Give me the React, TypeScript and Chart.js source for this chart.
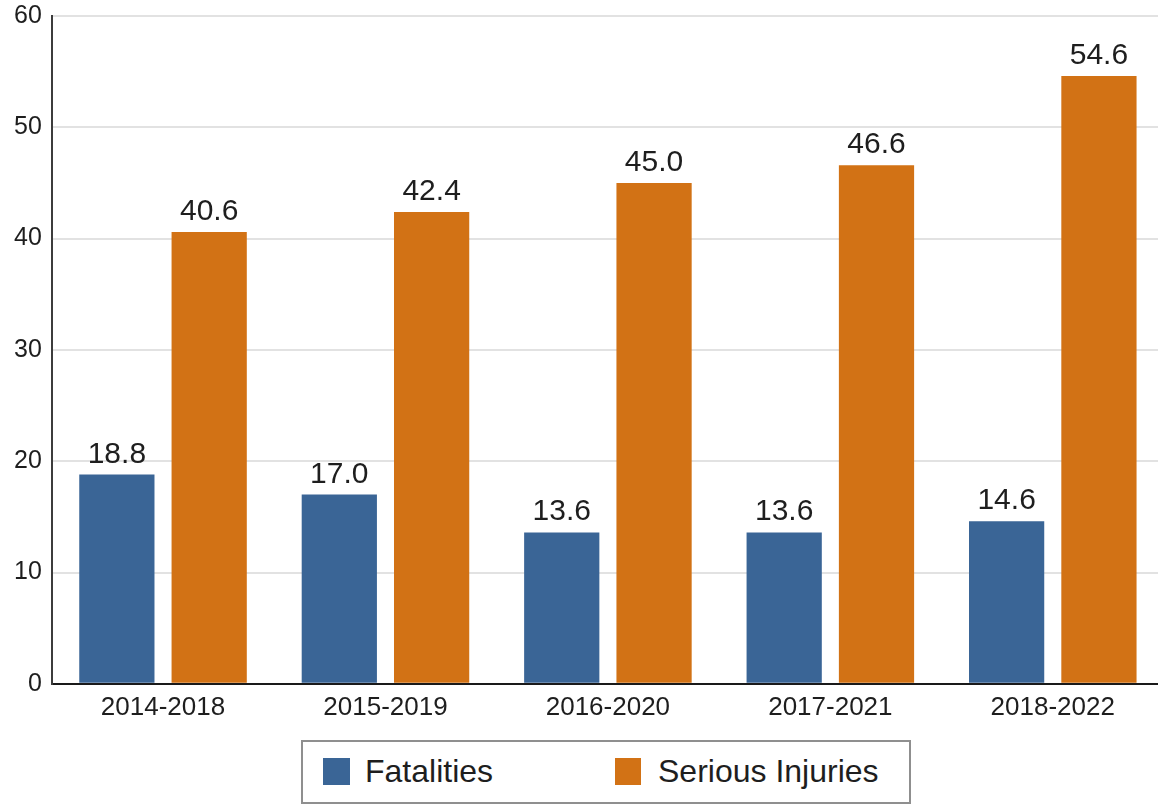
import React, { useEffect, useRef } from 'react';
import { Chart, registerables } from 'chart.js';

Chart.register(...registerables);

const categories = ['2014-2018', '2015-2019', '2016-2020', '2017-2021', '2018-2022'];
const fatalities = [18.8, 17.0, 13.6, 13.6, 14.6];
const seriousInjuries = [40.6, 42.4, 45.0, 46.6, 54.6];
const seriesLabels = ['Fatalities', 'Serious Injuries'];
const seriesColors = ['#3a6596', '#d27215'];
const yMin = 0;
const yMax = 60;
const yStep = 10;

const FONT = "'Liberation Sans', Arial, Helvetica, sans-serif";

const valueLabels = {
  id: 'valueLabels',
  afterDatasetsDraw(chart: any) {
    const ctx = chart.ctx;
    ctx.save();
    ctx.font = `30px ${FONT}`;
    ctx.fillStyle = '#1e1e1e';
    ctx.textAlign = 'center';
    ctx.textBaseline = 'alphabetic';
    chart.data.datasets.forEach((ds: any, i: number) => {
      const meta = chart.getDatasetMeta(i);
      meta.data.forEach((el: any, j: number) => {
        const v = ds.data[j];
        ctx.fillText(Number(v).toFixed(1), el.x, el.y - 12);
      });
    });
    ctx.restore();
  },
};

export default function App() {
  const canvasRef = useRef<HTMLCanvasElement | null>(null);

  useEffect(() => {
    document.body.style.margin = '0';
    const canvas = canvasRef.current;
    if (!canvas) return;
    const chart = new Chart(canvas, {
      type: 'bar',
      data: {
        labels: categories,
        datasets: [
          {
            label: seriesLabels[0],
            data: fatalities,
            backgroundColor: seriesColors[0],
            borderWidth: 0,
            categoryPercentage: 0.83,
            barPercentage: 0.815,
          },
          {
            label: seriesLabels[1],
            data: seriousInjuries,
            backgroundColor: seriesColors[1],
            borderWidth: 0,
            categoryPercentage: 0.83,
            barPercentage: 0.815,
          },
        ],
      },
      options: {
        responsive: false,
        animation: false,
        devicePixelRatio: 1,
        layout: { padding: { left: 14, top: 16, right: 0, bottom: 75 } },
        plugins: {
          legend: { display: false },
          tooltip: { enabled: false },
        },
        scales: {
          x: {
            grid: { display: false, drawTicks: false },
            border: { display: true, color: '#1a1a1a', width: 2 },
            ticks: {
              color: '#1e1e1e',
              font: { family: FONT, size: 26 },
              padding: 8,
              maxRotation: 0,
            },
          },
          y: {
            min: yMin,
            max: yMax,
            grid: {
              color: '#e2e2e2',
              lineWidth: 2,
              drawTicks: true,
              tickLength: 10,
              tickColor: 'rgba(0,0,0,0)',
            },
            border: { display: true, color: '#3c3c3c', width: 2 },
            ticks: {
              stepSize: yStep,
              color: '#1e1e1e',
              font: { family: FONT, size: 25 },
              padding: 0,
            },
          },
        },
      },
      plugins: [valueLabels],
    });
    return () => chart.destroy();
  }, []);

  const legendText: React.CSSProperties = {
    position: 'absolute',
    fontFamily: FONT,
    fontSize: 32,
    lineHeight: '32px',
    color: '#1e1e1e',
    whiteSpace: 'nowrap',
    top: 13,
  };

  return (
    <div
      style={{
        position: 'fixed',
        left: 0,
        top: 0,
        width: 1158,
        height: 806,
        overflow: 'hidden',
        background: '#ffffff',
      }}
    >
      <canvas ref={canvasRef} width={1164} height={806} style={{ display: 'block' }} />
      <div
        style={{
          position: 'absolute',
          left: 301,
          top: 740,
          width: 606,
          height: 60,
          border: '2px solid #8f8f8f',
          background: '#ffffff',
        }}
      >
        <div style={{ position: 'absolute', left: 20, top: 16, width: 27, height: 27, background: seriesColors[0] }} />
        <span style={{ ...legendText, left: 62 }}>{seriesLabels[0]}</span>
        <div style={{ position: 'absolute', left: 312, top: 16, width: 26, height: 27, background: seriesColors[1] }} />
        <span style={{ ...legendText, left: 355 }}>{seriesLabels[1]}</span>
      </div>
    </div>
  );
}
